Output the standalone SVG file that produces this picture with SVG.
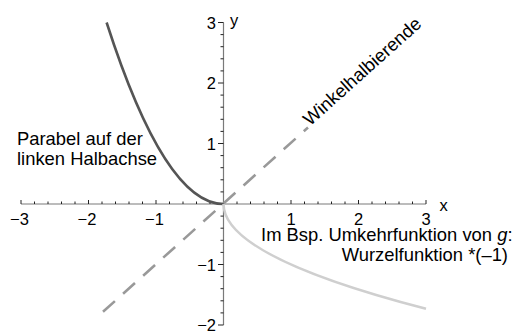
<svg xmlns="http://www.w3.org/2000/svg" width="512" height="331" viewBox="0 0 512 331">
<style>
  .axis{stroke:#7a7a7a;stroke-width:1.2;fill:none}
  .tick{stroke:#222;stroke-width:1;fill:none}
  .num{font-family:"Liberation Sans",Arial,sans-serif;font-size:16.5px;fill:#000}
  .lbl{font-family:"Liberation Sans",Arial,sans-serif;font-size:18.4px;fill:#000}
  .curve{fill:none;stroke-width:2.6;stroke-linecap:butt}
</style>
<rect width="512" height="331" fill="#fff"/>
<g id="axes">
  <path class="axis" d="M21 204H426M223.5 22.5V325"/>
  <path class="tick" d="M21 200V204M88.5 200V204M156 200V204M291 200V204M358.5 200V204M426 200V204"/>
  <path class="tick" d="M34.5 201.5V204M48 201.5V204M61.5 201.5V204M75 201.5V204M102 201.5V204M115.5 201.5V204M129 201.5V204M142.5 201.5V204M169.5 201.5V204M183 201.5V204M196.5 201.5V204M210 201.5V204M237 201.5V204M250.5 201.5V204M264 201.5V204M277.5 201.5V204M304.5 201.5V204M318 201.5V204M331.5 201.5V204M345 201.5V204M372 201.5V204M385.5 201.5V204M399 201.5V204M412.5 201.5V204"/>
  <path class="tick" d="M218 22.5H223.5M218 83H223.5M218 143.5H223.5M218 264.5H223.5M218 325H223.5"/>
  <path class="tick" d="M220.5 34.6H223.5M220.5 46.7H223.5M220.5 58.8H223.5M220.5 70.9H223.5M220.5 95.1H223.5M220.5 107.2H223.5M220.5 119.3H223.5M220.5 131.4H223.5M220.5 155.6H223.5M220.5 167.7H223.5M220.5 179.8H223.5M220.5 191.9H223.5M220.5 216.1H223.5M220.5 228.2H223.5M220.5 240.3H223.5M220.5 252.4H223.5M220.5 276.6H223.5M220.5 288.7H223.5M220.5 300.8H223.5M220.5 312.9H223.5"/>
  <g class="num" text-anchor="middle">
    <text x="19.5" y="224.5">−3</text>
    <text x="87" y="224.5">−2</text>
    <text x="154.5" y="224.5">−1</text>
    <text x="291" y="224.5">1</text>
    <text x="358.5" y="224.5">2</text>
    <text x="426" y="224.5">3</text>
  </g>
  <g class="num" text-anchor="end">
    <text x="216" y="28.5">3</text>
    <text x="216" y="89">2</text>
    <text x="216" y="149.5">1</text>
    <text x="216" y="270.5">−1</text>
    <text x="216" y="331">−2</text>
  </g>
  <text class="num" x="439.5" y="210.5">x</text>
  <text class="num" x="230" y="26">y</text>
</g>
<g id="connectors">
  <path id="winkelhalbierende-line" class="curve" stroke="#999" stroke-dasharray="16 11" d="M103 311.8L308 127.5"/>
  <path id="parabel" class="curve" stroke="#555" d="M106.6 22.5Q165.05 204 223.5 204"/>
  <path id="umkehrfunktion" class="curve" stroke="#cfcfcf" d="M223.5 204Q223.5 256.4 426 308.8"/>
</g>
<g id="label-winkelhalbierende">
  <text class="lbl" transform="translate(310 126.5) rotate(-41.87)">Winkelhalbierende</text>
</g>
<g id="label-parabel">
  <text class="lbl" x="17" y="145">Parabel auf der</text>
  <text class="lbl" x="17" y="165">linken Halbachse</text>
</g>
<g id="label-umkehrfunktion">
  <text class="lbl" x="512.5" y="241" text-anchor="end">Im Bsp. Umkehrfunktion von <tspan font-style="italic">g</tspan>:</text>
  <text class="lbl" x="508" y="261" text-anchor="end">Wurzelfunktion *(–1)</text>
</g>
</svg>
